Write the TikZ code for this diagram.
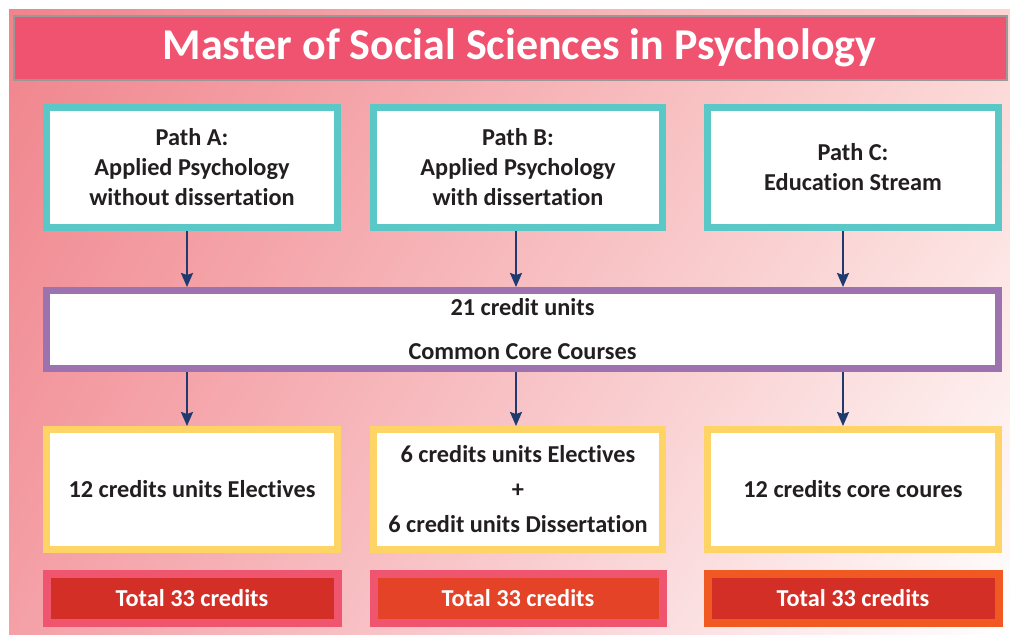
\documentclass[tikz,border=0pt]{standalone}
\usepackage{fontspec}
\setmainfont{Carlito}[Ligatures=NoCommon]
\usepackage{tikz}
\usetikzlibrary{positioning, arrows.meta, shadings}
\definecolor{bgtl}{HTML}{F0848C}
\definecolor{bgtr}{HTML}{FBD5D3}
\definecolor{bgbl}{HTML}{F4A0A6}
\definecolor{titlered}{HTML}{F0536F}
\definecolor{myteal}{HTML}{5BC8C8}
\definecolor{mypurple}{HTML}{9E72AE}
\definecolor{myyellow}{HTML}{FFD466}
\definecolor{mynavy}{HTML}{1F3A6E}
\definecolor{mypink}{HTML}{F05570}
\definecolor{myred}{HTML}{D32F27}
\definecolor{myorangered}{HTML}{E54327}
\definecolor{myorange}{HTML}{F05A22}
\definecolor{mytext}{HTML}{231F20}

\begin{document}
\begin{tikzpicture}
[x=1pt, y=-1pt,
 pathbox/.style={rectangle, draw=myteal, fill=white, line width=7pt, minimum width=291pt, minimum height=120pt, align=center, text=mytext, font=\fontsize{24.3}{30}\selectfont\bfseries},
 corebox/.style={rectangle, draw=mypurple, fill=white, line width=7pt, minimum width=952pt, minimum height=78pt, align=center, text=mytext, font=\fontsize{24.3}{44}\selectfont\bfseries},
 credbox/.style={rectangle, draw=myyellow, fill=white, line width=7pt, minimum width=291pt, minimum height=120pt, align=center, text=mytext, font=\fontsize{24.3}{35}\selectfont\bfseries},
 totbox/.style={rectangle, line width=8pt, minimum width=291pt, minimum height=49pt, text=white, font=\fontsize{24.3}{27}\selectfont\bfseries},
 ->/.style={line width=2pt, mynavy, arrows={-Stealth[length=14pt, width=12pt, inset=2pt]}}]

\useasboundingbox (0,0) rectangle (1010,635);
% background
\shade[upper left=bgtl, upper right=bgtr, lower left=bgbl, lower right=white] (9,9) rectangle (1010,634);

% title
\node[rectangle, draw=gray!80, fill=titlered, line width=2pt, minimum width=993pt, minimum height=64pt, text=white, font=\fontsize{44}{50}\selectfont\bfseries] (title) at (510.5,48) {\hspace*{18pt}Master of Social Sciences in Psychology};

% paths
\node[pathbox] (pathA) at (192,167.5) {Path A:\\Applied Psychology\\without dissertation};
\node[pathbox, minimum width=289pt] (pathB) [right=29pt of pathA] {Path B:\\Applied Psychology\\with dissertation};
\node[pathbox] (pathC) [right=38pt of pathB] {Path C:\\Education Stream};

% common core
\node[corebox] (core) at (522.5,329.5) {21 credit units\\Common Core Courses};

% credits per path
\node[credbox] (elecA) at (192,489.5) {12 credits units Electives};
\node[credbox, minimum width=289pt] (elecB) [right=29pt of elecA] {6 credits units Electives\\+\\6 credit units Dissertation};
\node[credbox] (elecC) [right=38pt of elecB] {12 credits core coures};

% totals
\node[totbox, draw=mypink, fill=myred] (totA) [below=17pt of elecA] {Total 33 credits};
\node[totbox, draw=mypink, fill=myorangered, minimum width=289pt] (totB) [below=17pt of elecB] {Total 33 credits};
\node[totbox, draw=myorange, fill=myred] (totC) [below=17pt of elecC] {Total 33 credits};

% arrows sit a little left of the box centres
  \draw [->] ([xshift=-5pt]pathA.south) -- ([xshift=-5pt]pathA.south |- core.north);
  \draw [->] ([xshift=-2pt]pathB.south) -- ([xshift=-2pt]pathB.south |- core.north);
  \draw [->] ([xshift=-10pt]pathC.south) -- ([xshift=-10pt]pathC.south |- core.north);
  \draw [->] ([xshift=-5pt]core.south -| elecA) -- ([xshift=-5pt]elecA.north);
  \draw [->] ([xshift=-2pt]core.south -| elecB) -- ([xshift=-2pt]elecB.north);
  \draw [->] ([xshift=-10pt]core.south -| elecC) -- ([xshift=-10pt]elecC.north);

\end{tikzpicture}
\end{document}
